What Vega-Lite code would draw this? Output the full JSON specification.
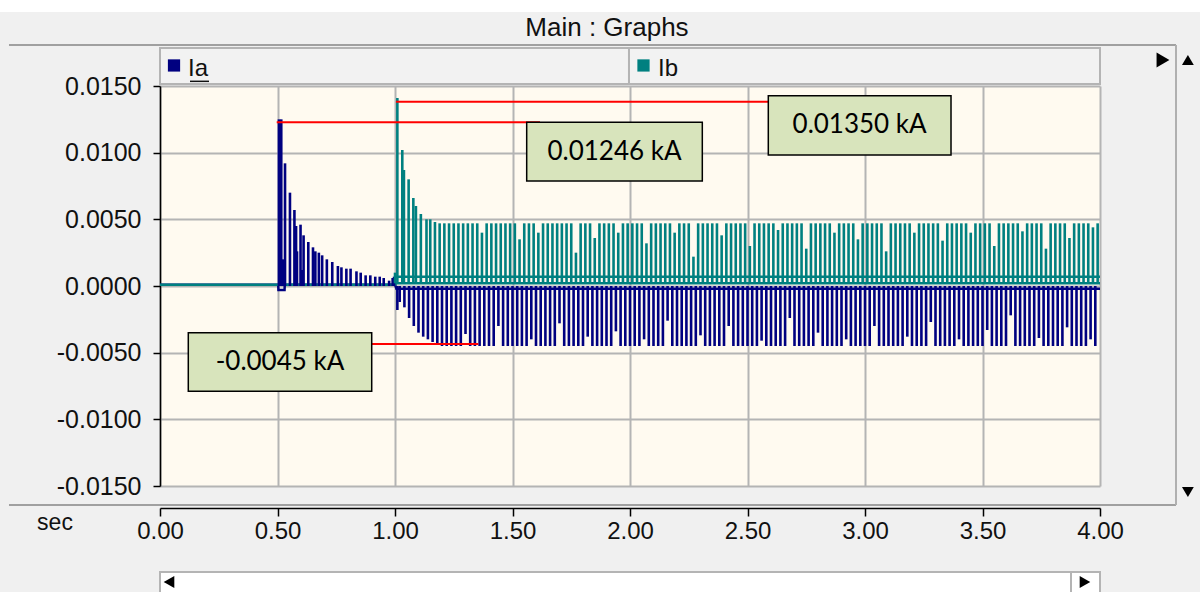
{
"$schema": "https://vega.github.io/schema/vega-lite/v6.json",
"width": 940, "height": 400,
"autosize": {"type": "none"},
"padding": {"left": 160, "top": 86, "right": 100, "bottom": 106},
"background": "#f0f0f0",
"config": {"view": {"fill": "#fffaf0", "stroke": null}, "font": "Liberation Sans"},
"datasets": {
"base": [
{"s":"Ia","k":"a","t":0,"v":0.0001},{"s":"Ia","k":"a","t":0.503,"v":0.0001},{"s":"Ia","k":"a","t":0.504,"v":-0.0003},{"s":"Ia","k":"a","t":0.53,"v":-0.0003},{"s":"Ia","k":"a","t":0.531,"v":0.0001},{"s":"Ia","k":"a","t":1.0,"v":0.0001},{"s":"Ia","k":"a","t":1.006,"v":-0.0002},{"s":"Ia","k":"a","t":4.0,"v":-0.0002},
{"s":"Ib","k":"b","t":0,"v":0.0001},{"s":"Ib","k":"b","t":1.0,"v":0.0001},{"s":"Ib","k":"b","t":1.005,"v":0.0002},{"s":"Ib","k":"b","t":4.0,"v":0.0002},
{"s":"Ib","k":"c","t":1.005,"v":0.0007},{"s":"Ib","k":"c","t":4.0,"v":0.0007}
],
"ia": [
{"t":0.506,"v":0.0125},{"t":0.516,"v":0.0125},{"t":0.524,"v":0.002},{"t":0.532,"v":0.0092},{"t":0.553,"v":0.007},{"t":0.572,"v":0.0057},{"t":0.579,"v":0.0045},{"t":0.583,"v":0.0026},{"t":0.598,"v":0.0046},{"t":0.604,"v":0.0012},{"t":0.611,"v":0.0038},{"t":0.631,"v":0.0033},{"t":0.651,"v":0.0029},{"t":0.661,"v":0.0026},{"t":0.676,"v":0.0025},{"t":0.69,"v":0.0023},{"t":0.71,"v":0.002},{"t":0.733,"v":0.0018},{"t":0.757,"v":0.0015},{"t":0.772,"v":0.0014},{"t":0.793,"v":0.0013},{"t":0.811,"v":0.0013},{"t":0.836,"v":0.0011},{"t":0.854,"v":0.001},{"t":0.875,"v":0.0008},{"t":0.895,"v":0.0008},{"t":0.916,"v":0.0007},{"t":0.935,"v":0.0007},{"t":0.952,"v":0.0006},{"t":0.975,"v":0.0004},{"t":0.99,"v":0.0006},{"t":0.996,"v":0.0007},
{"t":1.01,"v":-0.0018},{"t":1.02,"v":-0.0012},{"t":1.04,"v":-0.0016},{"t":1.06,"v":-0.0024},{"t":1.08,"v":-0.003},{"t":1.1,"v":-0.0035},{"t":1.12,"v":-0.0038},{"t":1.14,"v":-0.004},{"t":1.16,"v":-0.0042},{"t":1.18,"v":-0.0044},
{"t":1.2,"v":-0.0045},{"t":1.22,"v":-0.0045},{"t":1.24,"v":-0.0045},{"t":1.26,"v":-0.0045},{"t":1.28,"v":-0.0045},{"t":1.3,"v":-0.0036},{"t":1.32,"v":-0.0045},{"t":1.34,"v":-0.0045},{"t":1.36,"v":-0.0045},{"t":1.38,"v":-0.0045},{"t":1.4,"v":-0.0045},{"t":1.42,"v":-0.0045},{"t":1.44,"v":-0.003},{"t":1.46,"v":-0.0045},{"t":1.48,"v":-0.0045},{"t":1.5,"v":-0.0045},{"t":1.52,"v":-0.0045},{"t":1.54,"v":-0.0045},{"t":1.56,"v":-0.0045},{"t":1.58,"v":-0.004},{"t":1.6,"v":-0.0045},{"t":1.62,"v":-0.0045},{"t":1.64,"v":-0.0045},{"t":1.66,"v":-0.0045},{"t":1.68,"v":-0.0045},{"t":1.7,"v":-0.0028},{"t":1.72,"v":-0.0045},{"t":1.74,"v":-0.0045},{"t":1.76,"v":-0.0045},{"t":1.78,"v":-0.0045},{"t":1.8,"v":-0.0045},{"t":1.82,"v":-0.0038},{"t":1.84,"v":-0.0045},{"t":1.86,"v":-0.0045},{"t":1.88,"v":-0.0045},{"t":1.9,"v":-0.0045},{"t":1.92,"v":-0.0045},{"t":1.94,"v":-0.0034},{"t":1.96,"v":-0.0045},{"t":1.98,"v":-0.0045},
{"t":2.0,"v":-0.0045},{"t":2.02,"v":-0.0045},{"t":2.04,"v":-0.0045},{"t":2.06,"v":-0.004},{"t":2.08,"v":-0.0045},{"t":2.1,"v":-0.0045},{"t":2.12,"v":-0.0045},{"t":2.14,"v":-0.0045},{"t":2.16,"v":-0.0026},{"t":2.18,"v":-0.0045},{"t":2.2,"v":-0.0045},{"t":2.22,"v":-0.0045},{"t":2.24,"v":-0.0045},{"t":2.26,"v":-0.0045},{"t":2.28,"v":-0.0045},{"t":2.3,"v":-0.0037},{"t":2.32,"v":-0.0045},{"t":2.34,"v":-0.0045},{"t":2.36,"v":-0.0045},{"t":2.38,"v":-0.0045},{"t":2.4,"v":-0.0045},{"t":2.42,"v":-0.003},{"t":2.44,"v":-0.0045},{"t":2.46,"v":-0.0045},{"t":2.48,"v":-0.0045},{"t":2.5,"v":-0.0045},{"t":2.52,"v":-0.0045},{"t":2.54,"v":-0.0045},{"t":2.56,"v":-0.0041},{"t":2.58,"v":-0.0045},{"t":2.6,"v":-0.0045},{"t":2.62,"v":-0.0045},{"t":2.64,"v":-0.0045},{"t":2.66,"v":-0.0045},{"t":2.68,"v":-0.0024},{"t":2.7,"v":-0.0045},{"t":2.72,"v":-0.0045},{"t":2.74,"v":-0.0045},{"t":2.76,"v":-0.0045},{"t":2.78,"v":-0.0045},{"t":2.8,"v":-0.0035},{"t":2.82,"v":-0.0045},{"t":2.84,"v":-0.0045},{"t":2.86,"v":-0.0045},{"t":2.88,"v":-0.0045},{"t":2.9,"v":-0.0045},{"t":2.92,"v":-0.004},{"t":2.94,"v":-0.0045},{"t":2.96,"v":-0.0045},{"t":2.98,"v":-0.0045},
{"t":3.0,"v":-0.0045},{"t":3.02,"v":-0.0045},{"t":3.04,"v":-0.003},{"t":3.06,"v":-0.0045},{"t":3.08,"v":-0.0045},{"t":3.1,"v":-0.0045},{"t":3.12,"v":-0.0045},{"t":3.14,"v":-0.0045},{"t":3.16,"v":-0.0045},{"t":3.18,"v":-0.0038},{"t":3.2,"v":-0.0045},{"t":3.22,"v":-0.0045},{"t":3.24,"v":-0.0045},{"t":3.26,"v":-0.0045},{"t":3.28,"v":-0.0027},{"t":3.3,"v":-0.0045},{"t":3.32,"v":-0.0045},{"t":3.34,"v":-0.0045},{"t":3.36,"v":-0.0045},{"t":3.38,"v":-0.0045},{"t":3.4,"v":-0.004},{"t":3.42,"v":-0.0045},{"t":3.44,"v":-0.0045},{"t":3.46,"v":-0.0045},{"t":3.48,"v":-0.0045},{"t":3.5,"v":-0.0045},{"t":3.52,"v":-0.0033},{"t":3.54,"v":-0.0045},{"t":3.56,"v":-0.0045},{"t":3.58,"v":-0.0045},{"t":3.6,"v":-0.0045},{"t":3.62,"v":-0.0022},{"t":3.64,"v":-0.0045},{"t":3.66,"v":-0.0045},{"t":3.68,"v":-0.0045},{"t":3.7,"v":-0.0045},{"t":3.72,"v":-0.0045},{"t":3.74,"v":-0.0039},{"t":3.76,"v":-0.0045},{"t":3.78,"v":-0.0045},{"t":3.8,"v":-0.0045},{"t":3.82,"v":-0.0045},{"t":3.84,"v":-0.0045},{"t":3.86,"v":-0.0031},{"t":3.88,"v":-0.0045},{"t":3.9,"v":-0.0045},{"t":3.92,"v":-0.0045},{"t":3.94,"v":-0.0045},{"t":3.96,"v":-0.004},{"t":3.98,"v":-0.0045}
],
"ib": [
{"t":1.0,"v":0.001},{"t":1.01,"v":0.0141},{"t":1.031,"v":0.0102},{"t":1.038,"v":0.0087},{"t":1.058,"v":0.008},{"t":1.078,"v":0.0066},{"t":1.089,"v":0.006},{"t":1.11,"v":0.0054},{"t":1.134,"v":0.005},
{"t":1.15,"v":0.005},{"t":1.17,"v":0.0048},{"t":1.19,"v":0.0047},{"t":1.21,"v":0.0047},{"t":1.23,"v":0.0047},{"t":1.25,"v":0.0047},{"t":1.27,"v":0.0047},{"t":1.29,"v":0.0047},{"t":1.31,"v":0.0047},{"t":1.33,"v":0.0047},{"t":1.35,"v":0.0047},{"t":1.37,"v":0.004},{"t":1.39,"v":0.0047},{"t":1.41,"v":0.0047},{"t":1.43,"v":0.0047},{"t":1.45,"v":0.0047},{"t":1.47,"v":0.0047},{"t":1.49,"v":0.0047},{"t":1.51,"v":0.0047},{"t":1.53,"v":0.0035},{"t":1.55,"v":0.0047},{"t":1.57,"v":0.0047},{"t":1.59,"v":0.0047},{"t":1.61,"v":0.004},{"t":1.63,"v":0.0047},{"t":1.65,"v":0.0047},{"t":1.67,"v":0.0047},{"t":1.69,"v":0.0047},{"t":1.71,"v":0.0047},{"t":1.73,"v":0.0047},{"t":1.75,"v":0.0047},{"t":1.77,"v":0.0025},{"t":1.79,"v":0.0047},{"t":1.81,"v":0.0047},{"t":1.83,"v":0.0047},{"t":1.85,"v":0.0036},{"t":1.87,"v":0.0047},{"t":1.89,"v":0.0047},{"t":1.91,"v":0.0047},{"t":1.93,"v":0.0047},{"t":1.95,"v":0.004},{"t":1.97,"v":0.0047},{"t":1.99,"v":0.0047},
{"t":2.01,"v":0.0047},{"t":2.03,"v":0.0047},{"t":2.05,"v":0.0047},{"t":2.07,"v":0.0032},{"t":2.09,"v":0.0047},{"t":2.11,"v":0.0047},{"t":2.13,"v":0.0047},{"t":2.15,"v":0.0047},{"t":2.17,"v":0.0047},{"t":2.19,"v":0.004},{"t":2.21,"v":0.0047},{"t":2.23,"v":0.0047},{"t":2.25,"v":0.0047},{"t":2.27,"v":0.0022},{"t":2.29,"v":0.0047},{"t":2.31,"v":0.0047},{"t":2.33,"v":0.0047},{"t":2.35,"v":0.0047},{"t":2.37,"v":0.0047},{"t":2.39,"v":0.0038},{"t":2.41,"v":0.0047},{"t":2.43,"v":0.0047},{"t":2.45,"v":0.0047},{"t":2.47,"v":0.0047},{"t":2.49,"v":0.0047},{"t":2.51,"v":0.003},{"t":2.53,"v":0.0047},{"t":2.55,"v":0.0047},{"t":2.57,"v":0.0047},{"t":2.59,"v":0.0047},{"t":2.61,"v":0.0047},{"t":2.63,"v":0.0042},{"t":2.65,"v":0.0047},{"t":2.67,"v":0.0047},{"t":2.69,"v":0.0047},{"t":2.71,"v":0.0047},{"t":2.73,"v":0.0047},{"t":2.75,"v":0.0028},{"t":2.77,"v":0.0047},{"t":2.79,"v":0.0047},{"t":2.81,"v":0.0047},{"t":2.83,"v":0.0047},{"t":2.85,"v":0.0047},{"t":2.87,"v":0.004},{"t":2.89,"v":0.0047},{"t":2.91,"v":0.0047},{"t":2.93,"v":0.0047},{"t":2.95,"v":0.0047},{"t":2.97,"v":0.0035},{"t":2.99,"v":0.0047},
{"t":3.01,"v":0.0047},{"t":3.03,"v":0.0047},{"t":3.05,"v":0.0047},{"t":3.07,"v":0.0047},{"t":3.09,"v":0.0026},{"t":3.11,"v":0.0047},{"t":3.13,"v":0.0047},{"t":3.15,"v":0.0047},{"t":3.17,"v":0.0047},{"t":3.19,"v":0.0047},{"t":3.21,"v":0.004},{"t":3.23,"v":0.0047},{"t":3.25,"v":0.0047},{"t":3.27,"v":0.0047},{"t":3.29,"v":0.0047},{"t":3.31,"v":0.0047},{"t":3.33,"v":0.0034},{"t":3.35,"v":0.0047},{"t":3.37,"v":0.0047},{"t":3.39,"v":0.0047},{"t":3.41,"v":0.0047},{"t":3.43,"v":0.0047},{"t":3.45,"v":0.004},{"t":3.47,"v":0.0047},{"t":3.49,"v":0.0047},{"t":3.51,"v":0.0047},{"t":3.53,"v":0.0047},{"t":3.55,"v":0.003},{"t":3.57,"v":0.0047},{"t":3.59,"v":0.0047},{"t":3.61,"v":0.0047},{"t":3.63,"v":0.0047},{"t":3.65,"v":0.0047},{"t":3.67,"v":0.0041},{"t":3.69,"v":0.0047},{"t":3.71,"v":0.0047},{"t":3.73,"v":0.0047},{"t":3.75,"v":0.0047},{"t":3.77,"v":0.0028},{"t":3.79,"v":0.0047},{"t":3.81,"v":0.0047},{"t":3.83,"v":0.0047},{"t":3.85,"v":0.0047},{"t":3.87,"v":0.0036},{"t":3.89,"v":0.0047},{"t":3.91,"v":0.0047},{"t":3.93,"v":0.0047},{"t":3.95,"v":0.0047},{"t":3.97,"v":0.0044},{"t":3.99,"v":0.0047}
]
},
"layer": [
{
"data": {"name": "base"},
"mark": {"type": "line", "strokeWidth": 2.5, "interpolate": "linear"},
"encoding": {
"x": {"field": "t", "type": "quantitative", "scale": {"domain": [0, 4], "nice": false, "zero": false},
"axis": {"title": null, "values": [0, 0.5, 1, 1.5, 2, 2.5, 3, 3.5, 4], "format": ".2f", "offset": 22, "grid": true, "gridColor": "#b4b4b4", "gridWidth": 2, "gridOpacity": 1, "domainColor": "#000000", "domainWidth": 1.5, "tickColor": "#000000", "tickWidth": 1.5, "tickSize": 8, "labelFontSize": 24, "labelColor": "#111111", "labelPadding": 3, "labelFont": "Liberation Sans", "labelFlush": false}},
"y": {"field": "v", "type": "quantitative", "scale": {"domain": [-0.015, 0.015], "nice": false, "zero": false},
"axis": {"title": null, "values": [-0.015, -0.01, -0.005, 0, 0.005, 0.01, 0.015], "format": ".4f", "labelExpr": "replace(datum.label, '\u2212', '-')", "grid": true, "gridColor": "#b4b4b4", "gridWidth": 2, "gridOpacity": 1, "domainColor": "#000000", "domainWidth": 1.5, "tickColor": "#000000", "tickWidth": 1.5, "tickSize": 7, "labelFontSize": 25, "labelColor": "#111111", "labelPadding": 12, "labelFont": "Liberation Sans", "labelFlush": false}},
"color": {"field": "s", "type": "nominal", "scale": {"domain": ["Ia", "Ib"], "range": ["#000080", "#008080"]}, "legend": null},
"detail": {"field": "k"},
"order": {"field": "t"}
}
},
{
"data": {"name": "ia"},
"mark": {"type": "rule", "strokeWidth": 2.6, "color": "#000080"},
"encoding": {
"x": {"field": "t", "type": "quantitative"},
"y": {"field": "v", "type": "quantitative"},
"y2": {"datum": 0.0}
}
},
{
"data": {"name": "ib"},
"mark": {"type": "rule", "strokeWidth": 2.6, "color": "#008080"},
"encoding": {
"x": {"field": "t", "type": "quantitative"},
"y": {"field": "v", "type": "quantitative"},
"y2": {"datum": 0.0002}
}
},
{
"data": {"values": [{}]},
"mark": {"type": "rect", "fill": "#ffffff"},
"encoding": {"x": {"datum": -0.681}, "x2": {"datum": 5.11}, "y": {"datum": 0.0215}, "y2": {"datum": 0.02055}}
},
{
"data": {"values": [{}]},
"mark": {"type": "rule", "stroke": "#a0a0a0", "strokeWidth": 2},
"encoding": {"x": {"datum": -0.6426}, "x2": {"datum": 4.3234}, "y": {"datum": 0.018075}}
},
{
"data": {"values": [{}]},
"mark": {"type": "rule", "stroke": "#a0a0a0", "strokeWidth": 2},
"encoding": {"x": {"datum": -0.6426}, "x2": {"datum": 4.3234}, "y": {"datum": -0.016425}}
},
{
"data": {"values": [{}]},
"mark": {"type": "rule", "stroke": "#b0b0b0", "strokeWidth": 2},
"encoding": {"x": {"datum": 4.3234}, "y": {"datum": 0.018075}, "y2": {"datum": -0.016425}}
},
{
"data": {"values": [{}]},
"mark": {"type": "text", "text": "Main : Graphs", "fontSize": 26, "align": "center", "baseline": "middle", "color": "#111111"},
"encoding": {"x": {"datum": 1.902}, "y": {"datum": 0.01935}}
},
{
"data": {"values": [{}]},
"mark": {"type": "rect", "fill": "#f2f2f2", "stroke": "#b4b4b4", "strokeWidth": 2},
"encoding": {"x": {"datum": 0}, "x2": {"datum": 1.9957}, "y": {"datum": 0.01785}, "y2": {"datum": 0.01515}}
},
{
"data": {"values": [{}]},
"mark": {"type": "rect", "fill": "#f2f2f2", "stroke": "#b4b4b4", "strokeWidth": 2},
"encoding": {"x": {"datum": 1.9957}, "x2": {"datum": 4.0}, "y": {"datum": 0.01785}, "y2": {"datum": 0.01515}}
},
{
"data": {"values": [{}]},
"mark": {"type": "point", "shape": "square", "filled": true, "size": 150, "color": "#000080", "opacity": 1},
"encoding": {"x": {"datum": 0.0596}, "y": {"datum": 0.01654}}
},
{
"data": {"values": [{}]},
"mark": {"type": "point", "shape": "square", "filled": true, "size": 150, "color": "#008080", "opacity": 1},
"encoding": {"x": {"datum": 2.0574}, "y": {"datum": 0.01654}}
},
{
"data": {"values": [{}]},
"mark": {"type": "text", "text": "Ia", "fontSize": 24, "align": "left", "baseline": "middle", "color": "#111111"},
"encoding": {"x": {"datum": 0.1192}, "y": {"datum": 0.0163}}
},
{
"data": {"values": [{}]},
"mark": {"type": "rule", "stroke": "#111111", "strokeWidth": 1.5},
"encoding": {"x": {"datum": 0.1277}, "x2": {"datum": 0.2085}, "y": {"datum": 0.01535}}
},
{
"data": {"values": [{}]},
"mark": {"type": "text", "text": "Ib", "fontSize": 24, "align": "left", "baseline": "middle", "color": "#111111"},
"encoding": {"x": {"datum": 2.119}, "y": {"datum": 0.0163}}
},
{
"data": {"values": [{}]},
"mark": {"type": "point", "shape": "triangle-right", "filled": true, "size": 220, "color": "#000000", "opacity": 1},
"encoding": {"x": {"datum": 4.268}, "y": {"datum": 0.01695}}
},
{
"data": {"values": [{}]},
"mark": {"type": "point", "shape": "triangle-up", "filled": true, "size": 140, "color": "#000000", "opacity": 1},
"encoding": {"x": {"datum": 4.374}, "y": {"datum": 0.01695}}
},
{
"data": {"values": [{}]},
"mark": {"type": "point", "shape": "triangle-down", "filled": true, "size": 140, "color": "#000000", "opacity": 1},
"encoding": {"x": {"datum": 4.374}, "y": {"datum": -0.01545}}
},
{
"data": {"values": [{}]},
"mark": {"type": "text", "text": "sec", "fontSize": 23, "align": "center", "baseline": "middle", "color": "#111111"},
"encoding": {"x": {"datum": -0.4468}, "y": {"datum": -0.0178}}
},
{
"data": {"values": [{}]},
"mark": {"type": "rect", "fill": "#ffffff", "stroke": "#b4b4b4", "strokeWidth": 2},
"encoding": {"x": {"datum": 0}, "x2": {"datum": 4.0}, "y": {"datum": -0.02145}, "y2": {"datum": -0.0232}}
},
{
"data": {"values": [{}]},
"mark": {"type": "rule", "stroke": "#b4b4b4", "strokeWidth": 2},
"encoding": {"x": {"datum": 3.8766}, "y": {"datum": -0.02145}, "y2": {"datum": -0.0232}}
},
{
"data": {"values": [{}]},
"mark": {"type": "point", "shape": "triangle-left", "filled": true, "size": 150, "color": "#000000", "opacity": 1},
"encoding": {"x": {"datum": 0.0383}, "y": {"datum": -0.0222}}
},
{
"data": {"values": [{}]},
"mark": {"type": "point", "shape": "triangle-right", "filled": true, "size": 150, "color": "#000000", "opacity": 1},
"encoding": {"x": {"datum": 3.936}, "y": {"datum": -0.0222}}
},
{
"data": {"values": [{}]},
"mark": {"type": "rule", "stroke": "#ff0000", "strokeWidth": 2},
"encoding": {"x": {"datum": 0.4966}, "x2": {"datum": 1.617}, "y": {"datum": 0.01228}}
},
{
"data": {"values": [{}]},
"mark": {"type": "rule", "stroke": "#ff0000", "strokeWidth": 2},
"encoding": {"x": {"datum": 1.004}, "x2": {"datum": 2.5885}, "y": {"datum": 0.01382}}
},
{
"data": {"values": [{}]},
"mark": {"type": "rule", "stroke": "#ff0000", "strokeWidth": 2},
"encoding": {"x": {"datum": 0.9009}, "x2": {"datum": 1.3545}, "y": {"datum": -0.00435}}
},
{
"data": {"values": [{}]},
"mark": {"type": "rect", "fill": "#d8e4bc", "stroke": "#000000", "strokeWidth": 1.5},
"encoding": {"x": {"datum": 1.5604}, "x2": {"datum": 2.3077}, "y": {"datum": 0.012278}, "y2": {"datum": 0.007875}}
},
{
"data": {"values": [{}]},
"mark": {"type": "rect", "fill": "#d8e4bc", "stroke": "#000000", "strokeWidth": 1.5},
"encoding": {"x": {"datum": 2.5885}, "x2": {"datum": 3.366}, "y": {"datum": 0.014273}, "y2": {"datum": 0.009825}}
},
{
"data": {"values": [{}]},
"mark": {"type": "rect", "fill": "#d8e4bc", "stroke": "#000000", "strokeWidth": 1.5},
"encoding": {"x": {"datum": 0.1204}, "x2": {"datum": 0.9009}, "y": {"datum": -0.0035}, "y2": {"datum": -0.0079}}
},
{
"data": {"values": [{}]},
"mark": {"type": "text", "text": "0.01246 kA", "font": "Lato", "fontSize": 26, "align": "center", "baseline": "middle", "color": "#000000"},
"encoding": {"x": {"datum": 1.934}, "y": {"datum": 0.01007}}
},
{
"data": {"values": [{}]},
"mark": {"type": "text", "text": "0.01350 kA", "font": "Lato", "fontSize": 26, "align": "center", "baseline": "middle", "color": "#000000"},
"encoding": {"x": {"datum": 2.977}, "y": {"datum": 0.01205}}
},
{
"data": {"values": [{}]},
"mark": {"type": "text", "text": "-0.0045 kA", "font": "Lato", "fontSize": 26, "align": "center", "baseline": "middle", "color": "#000000"},
"encoding": {"x": {"datum": 0.5106}, "y": {"datum": -0.0057}}
}
]
}
